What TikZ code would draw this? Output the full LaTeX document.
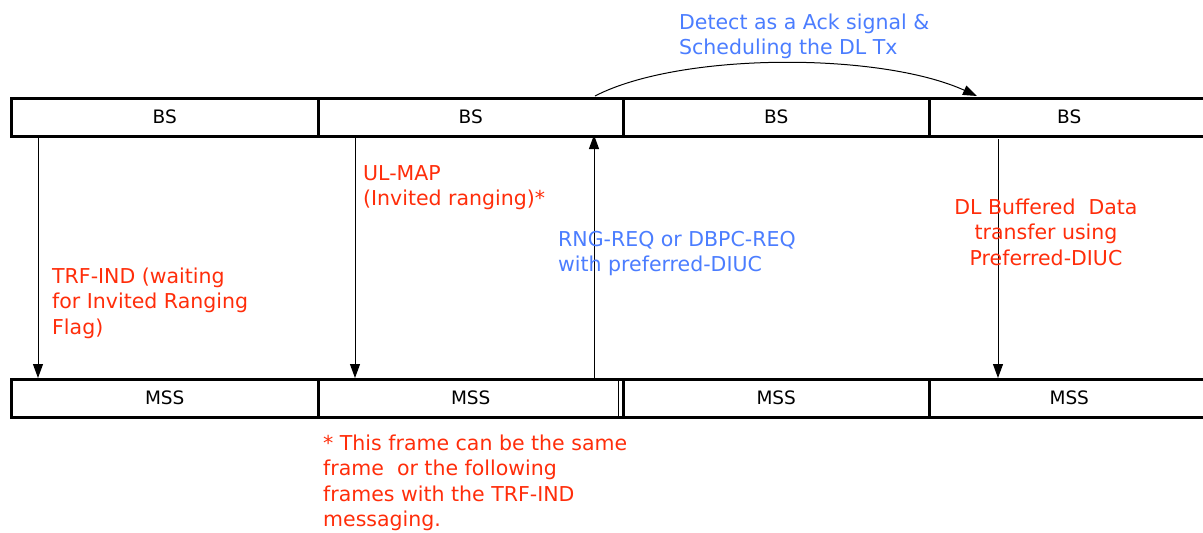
\documentclass[tikz,border=0pt]{standalone}
\usepackage{fontspec}
\setmainfont{DejaVu Sans}
\usetikzlibrary{arrows.meta}
\definecolor{redtxt}{RGB}{255,45,10}
\definecolor{bluetxt}{RGB}{75,125,255}
\tikzset{
  frame/.style={draw=black, line width=2.5pt, fill=white, minimum height=38pt, inner sep=0pt, anchor=north west, font=\fontsize{18.5}{22}\selectfont},
  msg/.style={draw=black, line width=1pt, -{Triangle[length=14pt,width=10pt]}},
  redlabel/.style={text=redtxt, align=left, anchor=base west, inner sep=0pt, font=\fontsize{20.5}{25.5}\selectfont},
  bluelabel/.style={text=bluetxt, align=left, anchor=base west, inner sep=0pt, font=\fontsize{20.5}{25.5}\selectfont},
}
\begin{document}
\begin{tikzpicture}[x=1pt,y=-1pt]
\useasboundingbox (0,0) rectangle (1203,533);
% BS frames
\node[frame, minimum width=307pt] (bs1) at (10,97) {BS};
\node[frame, minimum width=305pt] (bs2) at (317,97) {BS};
\node[frame, minimum width=306pt] (bs3) at (622,97) {BS};
\node[frame, minimum width=280pt] (bs4) at (928,97) {BS};
% MSS frames
\node[frame, minimum width=307pt] (ms1) at (10,378) {MSS};
\node[frame, minimum width=305pt] (ms2) at (317,378) {MSS};
\node[frame, minimum width=306pt] (ms3) at (622,378) {MSS};
\node[frame, minimum width=280pt] (ms4) at (928,378) {MSS};
\draw[line width=1pt] (ms3.north west) ++(-3.5,0) coordinate (dbl) -- ++(0,38);
% connectors
\coordinate (a1s) at (38,135); \coordinate (a1e) at (38,378);
\draw[msg] (a1s) -- (a1e);
\coordinate (a2s) at (355,135); \coordinate (a2e) at (355,378);
\draw[msg] (a2s) -- (a2e);
\coordinate (a3s) at (594,378); \coordinate (a3e) at (594,135);
\draw[msg] (a3s) -- (a3e);
\coordinate (a4s) at (998,139); \coordinate (a4e) at (998,378);
\draw[msg] (a4s) -- (a4e);
\coordinate (c1) at (595,96); \coordinate (c2) at (977,96);
\draw[msg] (c1) .. controls (680,52) and (880,52) .. (c2);
% labels (base = last line's baseline)
\node[redlabel] (l1) at (52,334) {TRF-IND (waiting\\for Invited Ranging\\Flag)};
\node[redlabel] (l2) at (363,205.5) {UL-MAP\\(Invited ranging)*};
\node[bluelabel] (l3) at (558,271.5) {RNG-REQ or DBPC-REQ\\with preferred-DIUC};
\node[bluelabel] (l4) at (679,54.5) {Detect as a Ack signal \&\\Scheduling the DL Tx};
\node[redlabel, align=center, anchor=base] (l5) at (1046,265) {DL Buffered\ \ Data\\transfer using\\Preferred-DIUC};
\node[redlabel] (l6) at (323,526.5) {* This frame can be the same\\frame\ \ or the following\\frames with the TRF-IND\\messaging.};
\end{tikzpicture}
\end{document}
